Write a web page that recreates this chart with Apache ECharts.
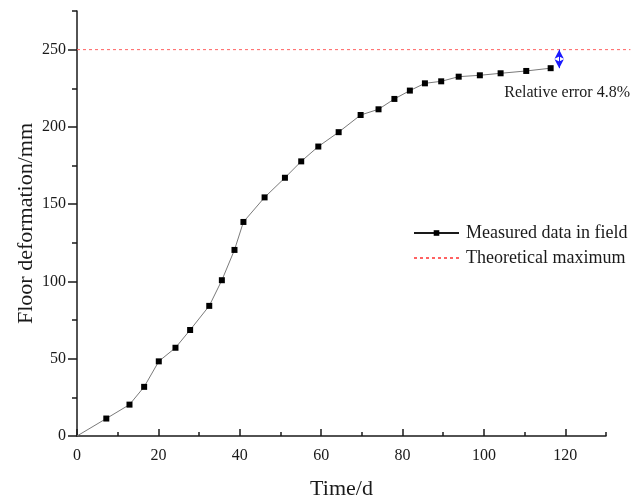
<!DOCTYPE html>
<html>
<head>
<meta charset="utf-8">
<script src="https://cdn.jsdelivr.net/npm/echarts@6/dist/echarts.min.js"></script>
<style>
  html, body { margin: 0; padding: 0; background: #fff; }
  #chart { width: 632px; height: 498px; }
</style>
</head>
<body>
<div id="chart"></div>
<script>
// Field measurements of floor deformation over time
const days = [0, 7.2, 12.9, 16.5, 20.1, 24.2, 27.8, 32.5, 35.6, 38.7, 40.9, 46.1, 51.1, 55.1,
  59.3, 64.3, 69.7, 74.1, 78.0, 81.8, 85.5, 89.5, 93.8, 99.0, 104.1, 110.4, 116.4];
const deformation = [0, 11.3, 20.3, 31.8, 48.3, 57.1, 68.6, 84.2, 100.8, 120.4, 138.5, 154.4, 167.1, 177.7,
  187.3, 196.6, 207.7, 211.4, 218.1, 223.5, 228.2, 229.5, 232.5, 233.4, 234.7, 236.2, 238];

// Theoretical maximum deformation and the span of its reference line (days)
const theoreticalMax = 250;
const theorySpan = [0, 136];
// Day at which the error bracket is drawn
const errorDay = 118.5;

// Axis ticks
const xMajorTicks = [0, 20, 40, 60, 80, 100, 120];
const xMinorTicks = [10, 30, 50, 70, 90, 110, 130];
const yMajorTicks = [0, 50, 100, 150, 200, 250];
const yMinorTicks = [25, 75, 125, 175, 225, 275];
const xRange = [0, 130];
const yRange = [0, 275];

const lastMeasured = deformation[deformation.length - 1];
const relError = ((theoreticalMax - lastMeasured) / theoreticalMax * 100).toFixed(1);

const FONT = '"Liberation Serif", "Times New Roman", serif';
const INK = '#1a1a1a';
const THEORY_COLOR = '#ff6262';

// Plot frame: the reference line runs past the right end of the time axis,
// so it sits in a wider overlay grid sharing the same scale.
const frame = { left: 77, top: 11, bottom: 62, width: 529 };
const pxPerDay = frame.width / (xRange[1] - xRange[0]);
const overlayWidth = (theorySpan[1] - theorySpan[0]) * pxPerDay;

const measuredData = days.map((d, i) => {
  const p = { value: [d, deformation[i]] };
  if (i === 0) p.symbol = 'none';
  return p;
});

const chart = echarts.init(document.getElementById('chart'), null, { renderer: 'canvas' });

const labelStyle = { fontFamily: FONT, fontSize: 16, color: INK };
const hiddenAxis = { show: false, axisLine: { show: false }, axisTick: { show: false }, axisLabel: { show: false }, splitLine: { show: false } };

chart.setOption({
  animation: false,
  backgroundColor: '#fff',
  grid: [
    { left: frame.left, width: frame.width, top: frame.top, bottom: frame.bottom, outerBoundsMode: 'none', containLabel: false },
    { left: frame.left, width: overlayWidth, top: frame.top, bottom: frame.bottom, outerBoundsMode: 'none', containLabel: false }
  ],
  xAxis: [
    {
      type: 'value', gridIndex: 0, min: xRange[0], max: xRange[1],
      name: 'Time/d', nameLocation: 'middle', nameGap: 42, nameMoveOverlap: false,
      nameTextStyle: { fontFamily: FONT, fontSize: 22, color: INK },
      axisLine: { show: true, onZero: false, lineStyle: { color: INK, width: 1.5 } },
      axisTick: { show: true, inside: true, length: 7, customValues: xMajorTicks, lineStyle: { color: INK, width: 1.5 } },
      axisLabel: { ...labelStyle, margin: 12, customValues: xMajorTicks },
      splitLine: { show: false }
    },
    {
      type: 'value', gridIndex: 0, min: xRange[0], max: xRange[1], position: 'bottom',
      axisLine: { show: false },
      axisTick: { show: true, inside: true, length: 4, customValues: xMinorTicks, lineStyle: { color: INK, width: 1.5 } },
      axisLabel: { show: false },
      splitLine: { show: false }
    },
    { type: 'value', gridIndex: 1, min: theorySpan[0], max: theorySpan[1], ...hiddenAxis }
  ],
  yAxis: [
    {
      type: 'value', gridIndex: 0, min: yRange[0], max: yRange[1],
      name: 'Floor deformation/mm', nameLocation: 'middle', nameGap: 40, nameRotate: 90, nameMoveOverlap: false,
      nameTextStyle: { fontFamily: FONT, fontSize: 22, color: INK },
      axisLine: { show: true, onZero: false, lineStyle: { color: INK, width: 1.5 } },
      axisTick: { show: true, inside: false, length: 9, customValues: yMajorTicks, lineStyle: { color: INK, width: 1.5 } },
      axisLabel: { ...labelStyle, margin: 11, customValues: yMajorTicks },
      splitLine: { show: false }
    },
    {
      type: 'value', gridIndex: 0, min: yRange[0], max: yRange[1], position: 'left',
      axisLine: { show: false },
      axisTick: { show: true, inside: false, length: 5, customValues: yMinorTicks, lineStyle: { color: INK, width: 1.5 } },
      axisLabel: { show: false },
      splitLine: { show: false }
    },
    { type: 'value', gridIndex: 1, min: yRange[0], max: yRange[1], ...hiddenAxis }
  ],
  legend: {
    orient: 'vertical',
    left: 408, top: 219,
    itemWidth: 45, itemHeight: 7, itemGap: 7,
    textStyle: { fontFamily: FONT, fontSize: 18, color: INK, padding: [0, 0, 0, 2] },
    data: [
      { name: 'Measured data in field', lineStyle: { color: INK } },
      { name: 'Theoretical maximum', itemStyle: { color: 'rgba(0,0,0,0)', borderWidth: 0 } }
    ]
  },
  series: [
    {
      name: 'Theoretical maximum',
      type: 'line',
      xAxisIndex: 2, yAxisIndex: 2,
      data: theorySpan.map(d => [d, theoreticalMax]),
      symbol: 'none',
      color: THEORY_COLOR,
      lineStyle: { color: THEORY_COLOR, width: 1, type: [3, 3], opacity: 1 },
      itemStyle: { color: THEORY_COLOR },
      emphasis: { disabled: true },
      z: 4
    },
    {
      name: 'Measured data in field',
      type: 'line',
      xAxisIndex: 0, yAxisIndex: 0,
      data: measuredData,
      symbol: 'rect',
      symbolSize: 6,
      lineStyle: { color: '#7a7a7a', width: 1 },
      itemStyle: { color: '#000' },
      z: 3
    },
    {
      name: 'error',
      type: 'line',
      xAxisIndex: 0, yAxisIndex: 0,
      data: [],
      markLine: {
        silent: true,
        symbol: ['arrow', 'arrow'],
        symbolSize: [7, 9],
        lineStyle: { color: '#1a1aff', width: 1, type: 'solid' },
        label: { show: false },
        data: [[{ coord: [errorDay, theoreticalMax] }, { coord: [errorDay, lastMeasured] }]]
      }
    }
  ],
  graphic: [
    {
      type: 'text',
      right: 2, top: 85,
      style: { text: 'Relative error ' + relError + '%', font: '16px ' + FONT, fill: INK }
    }
  ]
});
</script>
</body>
</html>
